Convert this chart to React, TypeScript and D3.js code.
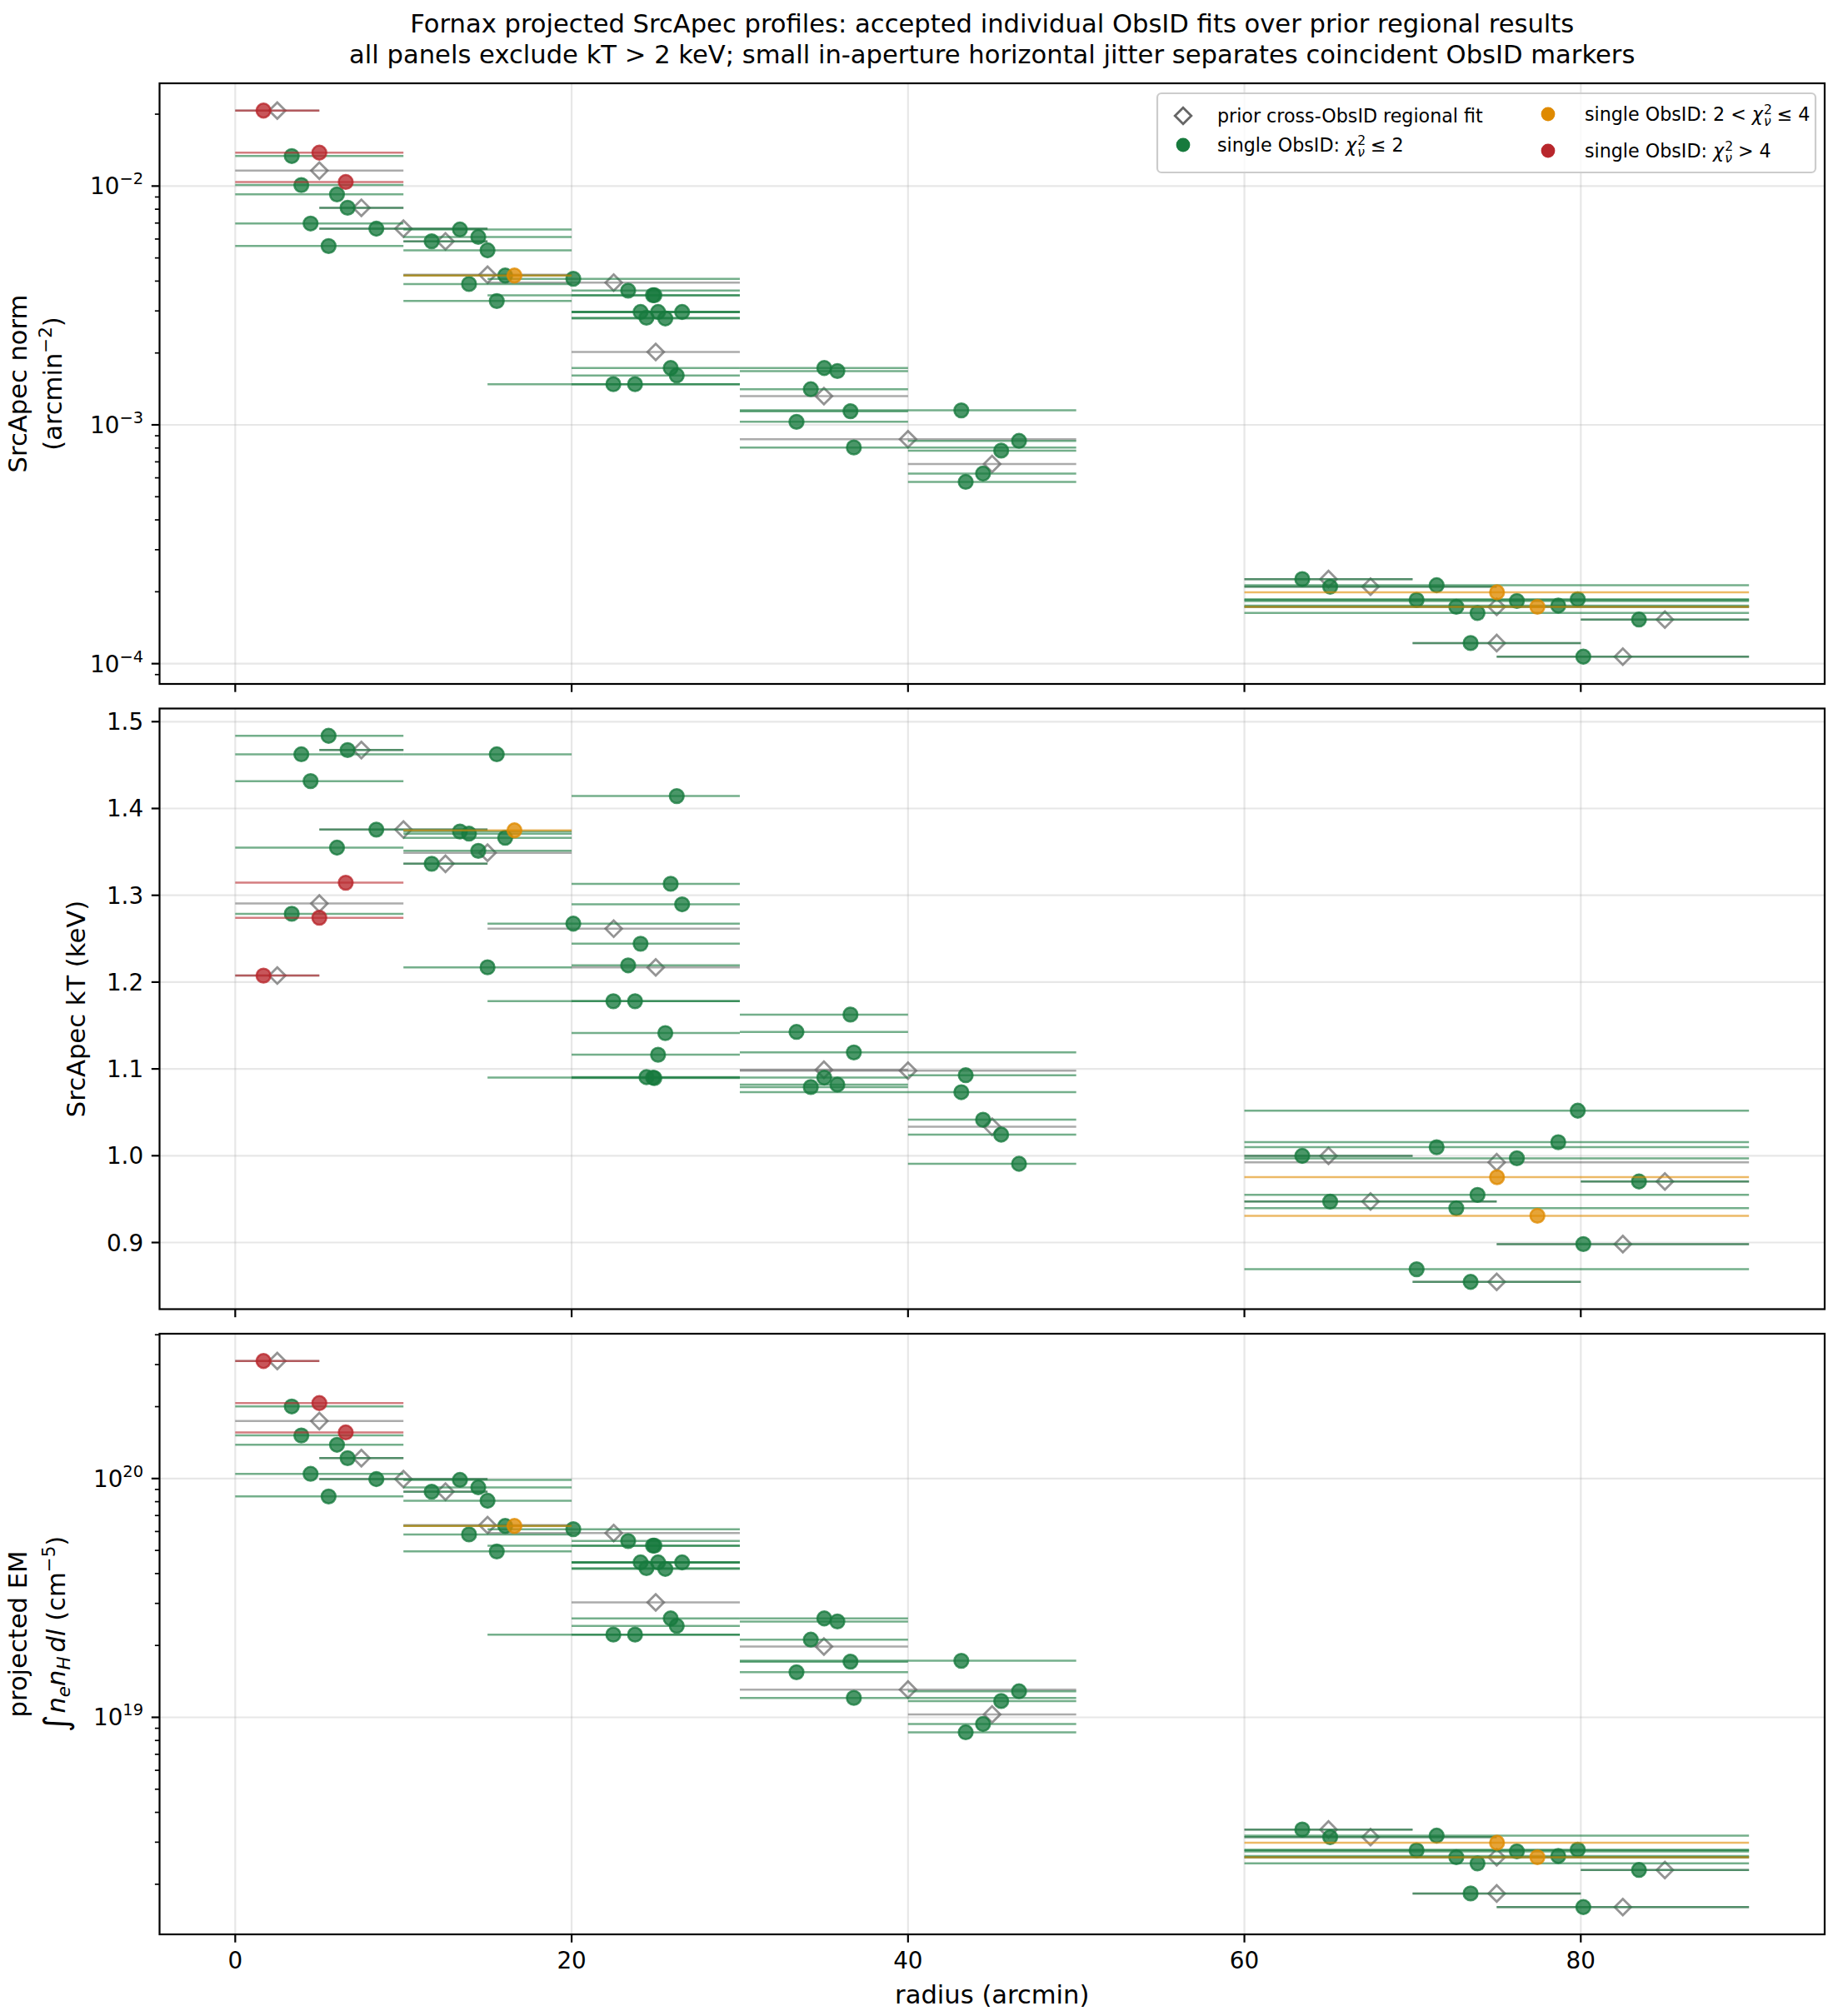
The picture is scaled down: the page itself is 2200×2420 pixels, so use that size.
import React from "react";
import * as d3 from "d3";

// ---------- prior cross-ObsID regional fits (one per aperture) ----------
const priorRadius = [2.5, 5, 7.5, 10, 12.5, 15, 22.5, 25, 35, 40, 45, 65, 67.5, 75, 75, 82.5, 85];
const priorInner = [0, 0, 5, 5, 10, 10, 15, 20, 30, 30, 40, 60, 60, 60, 70, 75, 80];
const priorOuter = [5, 10, 10, 15, 15, 20, 30, 30, 40, 50, 50, 70, 75, 90, 80, 90, 90];
const priorNorm = [0.0207, 0.0116, 0.00811, 0.00663, 0.00587, 0.00425, 0.00394, 0.00202, 0.00132, 0.000871, 0.000686, 0.000226, 0.00021, 0.000173, 0.000122, 0.000107, 0.000153];
const priorKT = [1.2075, 1.2905, 1.4673, 1.3757, 1.3363, 1.349, 1.2615, 1.217, 1.099, 1.098, 1.0333, 0.9998, 0.9472, 0.9925, 0.8547, 0.8982, 0.9703];
const priorEM19 = [31.05, 17.4, 12.17, 9.95, 8.81, 6.38, 5.91, 3.03, 1.98, 1.307, 1.029, 0.339, 0.315, 0.2595, 0.183, 0.1605, 0.2295];

// ---------- accepted single-ObsID fits (jittered radius) ----------
const obsRadius = [1.68, 3.36, 3.93, 4.48, 5.0, 5.55, 6.05, 6.57, 6.68, 8.39, 11.68, 13.36, 13.9, 14.45, 15.0, 15.55, 16.05, 16.6, 20.1, 22.48, 24.84, 23.36, 23.77, 24.1, 24.45, 24.92, 25.14, 25.57, 25.89, 26.25, 26.57, 33.37, 34.22, 35.02, 35.8, 36.58, 36.78, 43.17, 43.43, 44.46, 45.54, 46.6, 63.44, 65.1, 70.24, 71.43, 72.6, 73.86, 75.02, 76.2, 77.42, 78.66, 79.82, 73.45, 80.15, 83.46];
const obsInner = [0, 0, 0, 0, 0, 0, 0, 0, 5, 5, 10, 10, 10, 10, 10, 10, 10, 10, 15, 15, 15, 20, 20, 20, 20, 20, 20, 20, 20, 20, 20, 30, 30, 30, 30, 30, 30, 30, 40, 40, 40, 40, 60, 60, 60, 60, 60, 60, 60, 60, 60, 60, 60, 70, 75, 80];
const obsOuter = [5, 10, 10, 10, 10, 10, 10, 10, 10, 15, 15, 20, 20, 20, 20, 20, 20, 20, 30, 30, 30, 30, 30, 30, 30, 30, 30, 30, 30, 30, 30, 40, 40, 40, 40, 40, 50, 50, 50, 50, 50, 50, 70, 75, 90, 90, 90, 90, 90, 90, 90, 90, 90, 80, 90, 90];
const obsNorm = [0.0207, 0.01336, 0.0101, 0.00697, 0.0138, 0.00561, 0.00923, 0.0104, 0.00811, 0.00663, 0.00587, 0.00658, 0.00389, 0.00612, 0.00538, 0.0033, 0.00422, 0.00422, 0.00409, 0.00148, 0.00349, 0.00365, 0.00148, 0.00297, 0.00281, 0.00349, 0.00297, 0.00279, 0.00173, 0.00161, 0.00297, 0.00103, 0.00141, 0.00173, 0.00168, 0.00114, 0.000804, 0.00115, 0.000577, 0.000625, 0.00078, 0.000857, 0.000226, 0.00021, 0.000185, 0.000213, 0.000173, 0.000163, 0.000199, 0.000183, 0.000173, 0.000175, 0.000186, 0.000122, 0.000107, 0.000153];
const obsKT = [1.2075, 1.2787, 1.4624, 1.4315, 1.2741, 1.4837, 1.3549, 1.3145, 1.4673, 1.3757, 1.3363, 1.3735, 1.371, 1.3512, 1.217, 1.4624, 1.3662, 1.3748, 1.2673, 1.178, 1.09, 1.2193, 1.178, 1.2442, 1.0905, 1.0895, 1.1163, 1.1413, 1.3132, 1.4143, 1.2896, 1.1426, 1.0791, 1.09, 1.0819, 1.1626, 1.119, 1.0732, 1.0927, 1.0415, 1.0243, 0.9907, 0.9998, 0.9472, 0.8692, 1.0098, 0.9395, 0.9549, 0.9753, 0.997, 0.9308, 1.0156, 1.0519, 0.8547, 0.8982, 0.9703];
const obsEM19 = [31.05, 20.04, 15.15, 10.46, 20.7, 8.415, 13.85, 15.6, 12.17, 9.945, 8.805, 9.87, 5.835, 9.18, 8.07, 4.95, 6.33, 6.33, 6.135, 2.22, 5.235, 5.475, 2.22, 4.455, 4.215, 5.235, 4.455, 4.185, 2.595, 2.415, 4.455, 1.545, 2.115, 2.595, 2.52, 1.71, 1.206, 1.725, 0.8655, 0.9375, 1.17, 1.2855, 0.339, 0.315, 0.2775, 0.3195, 0.2595, 0.2445, 0.2985, 0.2745, 0.2595, 0.2625, 0.279, 0.183, 0.1605, 0.2295];
// chi-square class: g = chi2nu <= 2, o = 2 < chi2nu <= 4, r = chi2nu > 4
const obsClass = ["r", "g", "g", "g", "r", "g", "g", "r", "g", "g", "g", "g", "g", "g", "g", "g", "g", "o", "g", "g", "g", "g", "g", "g", "g", "g", "g", "g", "g", "g", "g", "g", "g", "g", "g", "g", "g", "g", "g", "g", "g", "g", "g", "g", "g", "g", "g", "g", "o", "g", "o", "g", "g", "g", "g", "g"];

const xTicks = [0, 20, 40, 60, 80];
const kTTicks = [0.9, 1.0, 1.1, 1.2, 1.3, 1.4, 1.5];

const titleLines = [
  "Fornax projected SrcApec profiles: accepted individual ObsID fits over prior regional results",
  "all panels exclude kT > 2 keV; small in-aperture horizontal jitter separates coincident ObsID markers",
];

const FONT = "'DejaVu Sans', 'Liberation Sans', sans-serif";
const COLORS: Record<string, string> = { g: "#177a3d", o: "#df8a00", r: "#b8272c" };
const PRIOR_COLOR = "#666666";

const W = 2200;
const H = 2420;
const L = 191.5;
const R = 2190;
const PH = 721;
const TOPS = [100, 850.5, 1601];
const TICK_FS = 27.8;
const LABEL_FS = 30.6;
const LEG_FS = 22.2;
const MAJ = 9.7;
const MIN = 5.6;
const CR = 8.4; // circle radius
const DH = 9.8; // diamond half-diagonal

const minus = (v: number) => (v < 0 ? "\u2212" + Math.abs(v) : String(v));

function diamond(cx: number, cy: number, h: number) {
  return `M${cx},${cy - h}L${cx + h},${cy}L${cx},${cy + h}L${cx - h},${cy}Z`;
}

function logScale(vals: number[], top: number) {
  const lo = Math.log10(d3.min(vals) as number);
  const hi = Math.log10(d3.max(vals) as number);
  const p = (hi - lo) * 0.05;
  return d3.scaleLog().domain([Math.pow(10, lo - p), Math.pow(10, hi + p)]).range([top + PH, top]);
}
function linScale(vals: number[], top: number) {
  const lo = d3.min(vals) as number;
  const hi = d3.max(vals) as number;
  const p = (hi - lo) * 0.05;
  return d3.scaleLinear().domain([lo - p, hi + p]).range([top + PH, top]);
}
function logTicks(scale: any) {
  const [a, b] = scale.domain();
  const majors: number[] = [];
  const minors: number[] = [];
  for (let e = Math.floor(Math.log10(a)); e <= Math.ceil(Math.log10(b)); e++) {
    const v = Math.pow(10, e);
    if (v >= a && v <= b) majors.push(e);
    for (let m = 2; m <= 9; m++) {
      const mv = m * v;
      if (mv >= a && mv <= b) minors.push(mv);
    }
  }
  return { majors, minors };
}

function Chi() {
  const sm = LEG_FS * 0.7;
  return (
    <>
      <tspan fontStyle="italic">χ</tspan>
      <tspan fontSize={sm} dy={-8.5} dx={1}>2</tspan>
      <tspan fontSize={sm} fontStyle="italic" dx={-9.9} dy={14.5}>ν</tspan>
      <tspan dy={-6}> </tspan>
    </>
  );
}

export default function App() {
  const xAll = priorInner.concat(obsInner, priorOuter, obsOuter);
  const xLo = d3.min(xAll) as number;
  const xHi = d3.max(xAll) as number;
  const xPad = (xHi - xLo) * 0.05;
  const x = d3.scaleLinear().domain([xLo - xPad, xHi + xPad]).range([L, R]);

  const yNorm = logScale(priorNorm.concat(obsNorm), TOPS[0]);
  const yKT = linScale(priorKT.concat(obsKT), TOPS[1]);
  const emPrior = priorEM19.map((v) => v * 1e19);
  const emObs = obsEM19.map((v) => v * 1e19);
  const yEM = logScale(emPrior.concat(emObs), TOPS[2]);

  const normT = logTicks(yNorm);
  const emT = logTicks(yEM);

  const panels = [
    { top: TOPS[0], y: yNorm, prior: priorNorm, obs: obsNorm, log: true, majors: normT.majors, minors: normT.minors },
    { top: TOPS[1], y: yKT, prior: priorKT, obs: obsKT, log: false, majors: kTTicks, minors: [] as number[] },
    { top: TOPS[2], y: yEM, prior: emPrior, obs: emObs, log: true, majors: emT.majors, minors: emT.minors },
  ];

  const classOrder = ["g", "o", "r"];

  return (
    <svg width={W} height={H} viewBox={`0 0 ${W} ${H}`} style={{ position: "absolute", left: 0, top: 0, background: "#fff" }} fontFamily={FONT}>
      <rect x={0} y={0} width={W} height={H} fill="#ffffff" />
      {/* title */}
      {titleLines.map((t, i) => (
        <text key={"t" + i} x={(L + R) / 2} y={39 + i * 37} textAnchor="middle" fontSize={LABEL_FS} fill="#000">{t}</text>
      ))}

      {panels.map((p, pi) => {
        const bottom = p.top + PH;
        const yv = (v: number) => p.y(v) as number;
        const majorVals = p.log ? p.majors.map((e) => Math.pow(10, e)) : p.majors;
        return (
          <g key={"p" + pi}>
            {/* grid */}
            {xTicks.map((t) => (
              <line key={"gx" + t} x1={x(t)} x2={x(t)} y1={p.top} y2={bottom} stroke="#b0b0b0" strokeOpacity={0.3} strokeWidth={2.2} />
            ))}
            {majorVals.map((v, i) => (
              <line key={"gy" + i} x1={L} x2={R} y1={yv(v)} y2={yv(v)} stroke="#b0b0b0" strokeOpacity={0.3} strokeWidth={2.2} />
            ))}
            {/* prior fits */}
            {priorRadius.map((r, i) => (
              <line key={"pl" + i} x1={x(priorInner[i])} x2={x(priorOuter[i])} y1={yv(p.prior[i])} y2={yv(p.prior[i])} stroke={PRIOR_COLOR} strokeOpacity={0.55} strokeWidth={2.5} />
            ))}
            {priorRadius.map((r, i) => (
              <path key={"pd" + i} d={diamond(x(r), yv(p.prior[i]), DH)} fill="none" stroke={PRIOR_COLOR} strokeOpacity={0.7} strokeWidth={2.8} />
            ))}
            {/* single ObsID fits */}
            {classOrder.map((c) => (
              <g key={"c" + c}>
                {obsRadius.map((r, i) =>
                  obsClass[i] === c ? (
                    <line key={"ol" + i} x1={x(obsInner[i])} x2={x(obsOuter[i])} y1={yv(p.obs[i])} y2={yv(p.obs[i])} stroke={COLORS[c]} strokeOpacity={0.6} strokeWidth={2.5} />
                  ) : null
                )}
                {obsRadius.map((r, i) =>
                  obsClass[i] === c ? (
                    <circle key={"oc" + i} cx={x(r)} cy={yv(p.obs[i])} r={CR} fill={COLORS[c]} fillOpacity={0.78} stroke={COLORS[c]} strokeOpacity={0.78} strokeWidth={2.5} />
                  ) : null
                )}
              </g>
            ))}
            {/* spines */}
            <rect x={L} y={p.top} width={R - L} height={PH} fill="none" stroke="#000" strokeWidth={2.2} />
            {/* y ticks */}
            {majorVals.map((v, i) => (
              <line key={"yt" + i} x1={L - MAJ} x2={L} y1={yv(v)} y2={yv(v)} stroke="#000" strokeWidth={2.2} />
            ))}
            {p.minors.map((v, i) => (
              <line key={"ym" + i} x1={L - MIN} x2={L} y1={yv(v)} y2={yv(v)} stroke="#000" strokeWidth={1.7} />
            ))}
            {p.log
              ? p.majors.map((e, i) => (
                  <text key={"yl" + i} x={L - MAJ - 9.7} y={yv(Math.pow(10, e)) + 10} textAnchor="end" fontSize={TICK_FS} fill="#000">
                    10<tspan fontSize={TICK_FS * 0.7} dy={-12}>{minus(e)}</tspan>
                  </text>
                ))
              : p.majors.map((v, i) => (
                  <text key={"yl" + i} x={L - MAJ - 9.7} y={yv(v) + 10} textAnchor="end" fontSize={TICK_FS} fill="#000">
                    {d3.format(".1f")(v)}
                  </text>
                ))}
            {/* x ticks */}
            {xTicks.map((t) => (
              <line key={"xt" + t} x1={x(t)} x2={x(t)} y1={bottom} y2={bottom + MAJ} stroke="#000" strokeWidth={2.2} />
            ))}
            {pi === 2 &&
              xTicks.map((t) => (
                <text key={"xl" + t} x={x(t)} y={bottom + 41} textAnchor="middle" fontSize={TICK_FS} fill="#000">{t}</text>
              ))}
          </g>
        );
      })}

      {/* y labels */}
      <g fontSize={LABEL_FS} fill="#000" textAnchor="middle">
        <text transform={`translate(32,${TOPS[0] + PH / 2}) rotate(-90)`}>SrcApec norm</text>
        <text transform={`translate(74,${TOPS[0] + PH / 2}) rotate(-90)`}>
          (arcmin<tspan fontSize={LABEL_FS * 0.7} dy={-12}>−2</tspan><tspan dy={12}>)</tspan>
        </text>
        <text transform={`translate(102,${TOPS[1] + PH / 2}) rotate(-90)`}>SrcApec kT (keV)</text>
        <text transform={`translate(32,${TOPS[2] + PH / 2}) rotate(-90)`}>projected EM</text>
        <text transform={`translate(78,${TOPS[2] + PH / 2}) rotate(-90)`}>
          <tspan fontSize={LABEL_FS * 1.3} dy={3}>∫</tspan>
          <tspan fontStyle="italic" dy={-3} dx={2}>n</tspan>
          <tspan fontSize={LABEL_FS * 0.7} fontStyle="italic" dy={6}>e</tspan>
          <tspan fontStyle="italic" dy={-6}>n</tspan>
          <tspan fontSize={LABEL_FS * 0.7} fontStyle="italic" dy={6}>H</tspan>
          <tspan fontStyle="italic" dy={-6} dx={5}>dl</tspan>
          <tspan> (cm</tspan>
          <tspan fontSize={LABEL_FS * 0.7} dy={-12}>−5</tspan>
          <tspan dy={12}>)</tspan>
        </text>
      </g>
      <text x={(L + R) / 2} y={2405} textAnchor="middle" fontSize={LABEL_FS} fill="#000">radius (arcmin)</text>

      {/* legend */}
      <g fontSize={LEG_FS} fill="#000">
        <rect x={1389} y={112} width={790} height={95} rx={5} fill="#ffffff" fillOpacity={0.8} stroke="#cccccc" strokeWidth={2.2} />
        <path d={diamond(1420, 139, DH)} fill="none" stroke={PRIOR_COLOR} strokeWidth={2.8} />
        <text x={1461} y={147}>prior cross-ObsID regional fit</text>
        <circle cx={1420} cy={174} r={CR} fill={COLORS.g} />
        <text x={1461} y={182}>single ObsID: <Chi />≤ 2</text>
        <circle cx={1858} cy={137} r={CR} fill={COLORS.o} />
        <text x={1902} y={145}>single ObsID: 2 &lt; <Chi />≤ 4</text>
        <circle cx={1858} cy={181} r={CR} fill={COLORS.r} />
        <text x={1902} y={189}>single ObsID: <Chi />&gt; 4</text>
      </g>
    </svg>
  );
}
